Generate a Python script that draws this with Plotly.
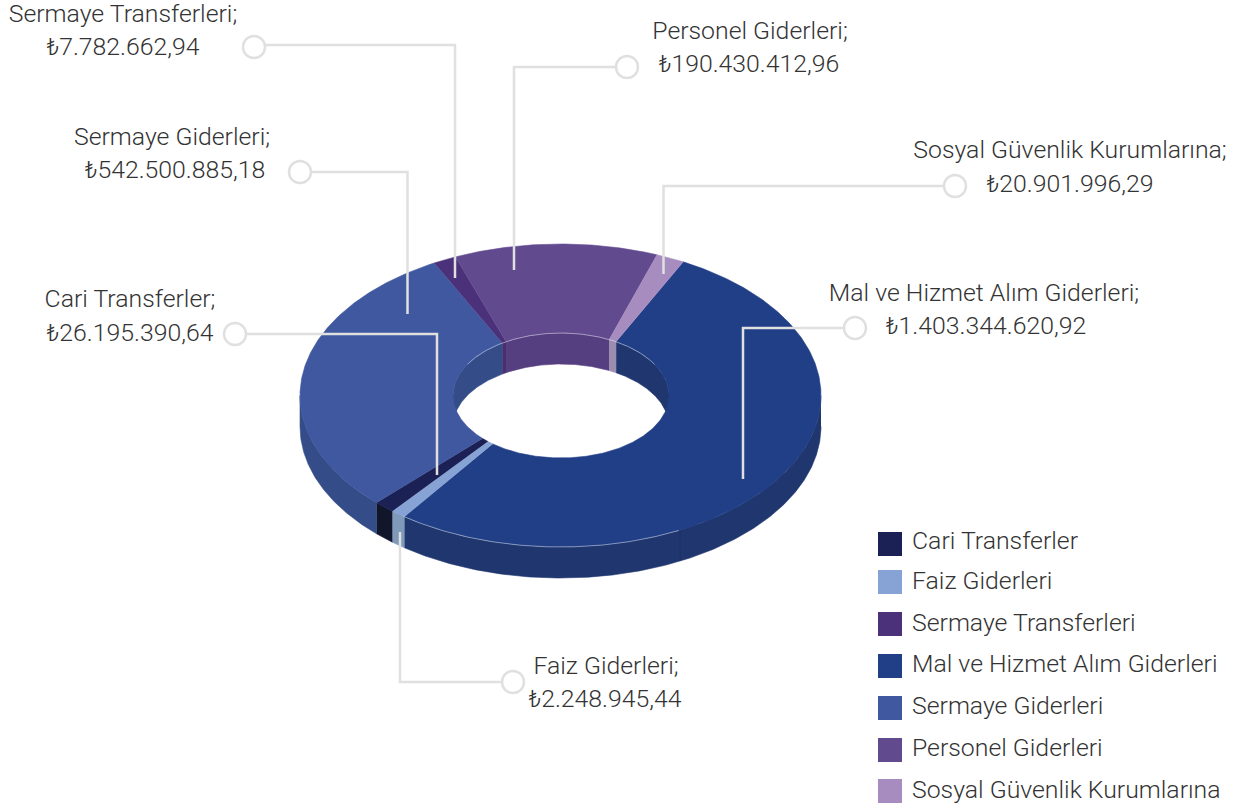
import numpy as np
import plotly.graph_objects as go

# ---- data ----
categories = ["Cari Transferler", "Faiz Giderleri", "Sermaye Transferleri",
              "Mal ve Hizmet Alım Giderleri", "Sermaye Giderleri",
              "Personel Giderleri", "Sosyal Güvenlik Kurumlarına"]
amounts = [26195390.64, 2248945.44, 7782662.94, 1403344620.92,
           542500885.18, 190430412.96, 20901996.29]
# sweep of each slice on the drawn ring (degrees), as read from the artwork
outer_sweep = [4.7, 3.4, 5.2, 188.7, 106.1, 45.5, 6.4]
inner_sweep = [3.9, 3.4, 2.4, 188.6, 100.5, 57.0, 4.2]
ring_order = [3, 1, 0, 4, 2, 5, 6]
top_colors = ["#1c2155", "#87a2d4", "#4b3179", "#213f87", "#3f58a0", "#614a8e", "#a68cbf"]
side_colors = ["#12162b", "#7f99bb", "#46306f", "#20366f", "#344d88", "#553f80", "#9c8cb0"]

# ---- geometry of the ring ----
OUT = dict(cx=560.5, cy=395.5, rx=260.5, ry=151.5, start=28.1)
INN = dict(cx=561.0, cy=395.5, rx=108.0, ry=62.5, start=30.6)
DEPTH = 31.0
LINE = "#e0e0e0"
TEXT = "#333333"
FONT = "Roboto"
FS = 24.8


def arc(e, t0, t1, dy=0.0, n=None):
    n = n or max(2, int(abs(t1 - t0) * 2) + 2)
    t = np.radians(np.linspace(t0, t1, n))
    return e["cx"] + e["rx"] * np.sin(t), e["cy"] - e["ry"] * np.cos(t) + dy


def spans(e, sweep):
    out, a = {}, e["start"]
    for i in ring_order:
        out[i] = (a, a + sweep[i])
        a += sweep[i]
    return out


def clip(span, lo, hi):
    res = []
    for k in (-360, 0, 360):
        a, b = max(span[0] + k, lo), min(span[1] + k, hi)
        if b > a:
            res.append((a, b))
    return res


def poly(xs, ys, color, name):
    return go.Scatter(x=np.concatenate(xs), y=np.concatenate(ys), mode="lines", fill="toself",
                      fillcolor=color, line=dict(color=color, width=0.6), name=name,
                      hoverinfo="skip", showlegend=False)


fig = go.Figure()
o_sp, i_sp = spans(OUT, outer_sweep), spans(INN, inner_sweep)

# inner wall (back of the hole)
for i in ring_order:
    for a, b in clip(i_sp[i], -90, 90):
        x1, y1 = arc(INN, a, b)
        x2, y2 = arc(INN, b, a, DEPTH)
        fig.add_trace(poly([x1, x2], [y1, y2], side_colors[i], categories[i]))

# outer wall (front)
for i in ring_order:
    for a, b in clip(o_sp[i], 90, 270):
        x1, y1 = arc(OUT, a, b)
        x2, y2 = arc(OUT, b, a, DEPTH)
        fig.add_trace(poly([x1, x2], [y1, y2], side_colors[i], categories[i]))

# top face
for i in ring_order:
    x1, y1 = arc(OUT, *o_sp[i])
    x2, y2 = arc(INN, i_sp[i][1], i_sp[i][0])
    fig.add_trace(poly([x1, x2], [y1, y2], top_colors[i], categories[i]))

# thin rim highlights and seam
for e, a, b in ((INN, -60, 60), (OUT, 153, 217)):
    x, y = arc(e, a, b)
    fig.add_trace(go.Scatter(x=x, y=y, mode="lines", hoverinfo="skip", showlegend=False,
                             line=dict(color="rgba(255,255,255,0.55)", width=0.8)))
sx, sy = arc(OUT, 152.7, 152.7, n=2)
fig.add_trace(go.Scatter(x=[sx[0], sx[0]], y=[sy[0], sy[0] + DEPTH], mode="lines", hoverinfo="skip",
                         showlegend=False, line=dict(color="#1a2f5f", width=0.8)))

# leader lines: one (x, y) path and a ring per category
leaders = {
    "Cari Transferler": ([235, 437, 437], [334, 334, 475]),
    "Faiz Giderleri": ([513, 400, 400], [682, 682, 532]),
    "Sermaye Transferleri": ([254, 455, 455], [45, 45, 278]),
    "Mal ve Hizmet Alım Giderleri": ([855, 743, 743], [328, 328, 479]),
    "Sermaye Giderleri": ([300, 407.5, 407.5], [172, 172, 314]),
    "Personel Giderleri": ([627, 514, 514], [67, 67, 270]),
    "Sosyal Güvenlik Kurumlarına": ([955, 663.5, 663.5], [186, 186, 274]),
}
for name, (lx, ly) in leaders.items():
    fig.add_trace(go.Scatter(x=lx, y=ly, mode="lines", hoverinfo="skip", showlegend=False,
                             line=dict(color=LINE, width=2.5)))
fig.add_trace(go.Scatter(x=[v[0][0] for v in leaders.values()],
                         y=[v[1][0] + (2 if k == "Sermaye Transferleri" else 0) for k, v in leaders.items()],
                         mode="markers", hoverinfo="skip", showlegend=False,
                         marker=dict(symbol="circle", size=22, color="white",
                                     line=dict(color=LINE, width=2.5))))


def money(v):
    s = f"{v:,.2f}".replace(",", "X").replace(".", ",").replace("X", ".")
    return "₺" + s


# callout labels (name line / value line), same order as categories
name_x = [130, 606, 123, 984, 172, 750, 1070]
name_y = [300.5, 667.5, 15.5, 294.5, 138.5, 32.5, 151.5]
value_x = [130, 605, 123, 986, 175, 749, 1070]
value_y = [335, 701, 49, 328, 172, 66, 186]
lab_font = dict(family=FONT, size=FS, color=TEXT, weight=300)
fig.add_trace(go.Scatter(x=name_x, y=name_y, mode="text", text=[c + ";" for c in categories],
                         textposition="middle center", textfont=lab_font, hoverinfo="skip", showlegend=False))
fig.add_trace(go.Scatter(x=value_x, y=value_y, mode="text", text=[money(a) for a in amounts],
                         textposition="middle center", textfont=lab_font, hoverinfo="skip", showlegend=False))

# legend
leg_y = [544, 582, 624, 666, 708, 750, 791]
leg_text_y = [543, 583, 624.5, 665.5, 708, 750, 792]
fig.add_trace(go.Scatter(x=[890] * 7, y=leg_y, mode="markers", hoverinfo="skip", showlegend=False,
                         marker=dict(symbol="square", size=24, color=top_colors, line=dict(width=0))))
fig.add_trace(go.Scatter(x=[912] * 7, y=leg_text_y, mode="text", text=categories,
                         textposition="middle right", textfont=lab_font, hoverinfo="skip", showlegend=False))

axis = dict(visible=False, fixedrange=True)
fig.update_layout(width=1245, height=811, margin=dict(l=0, r=0, t=0, b=0),
                  paper_bgcolor="white", plot_bgcolor="white",
                  xaxis=dict(range=[0, 1245], **axis),
                  yaxis=dict(range=[811, 0], **axis))
fig.write_html("out.html", config=dict(displayModeBar=False),
               post_script="document.body.style.margin='0';document.body.style.overflow='hidden';")
